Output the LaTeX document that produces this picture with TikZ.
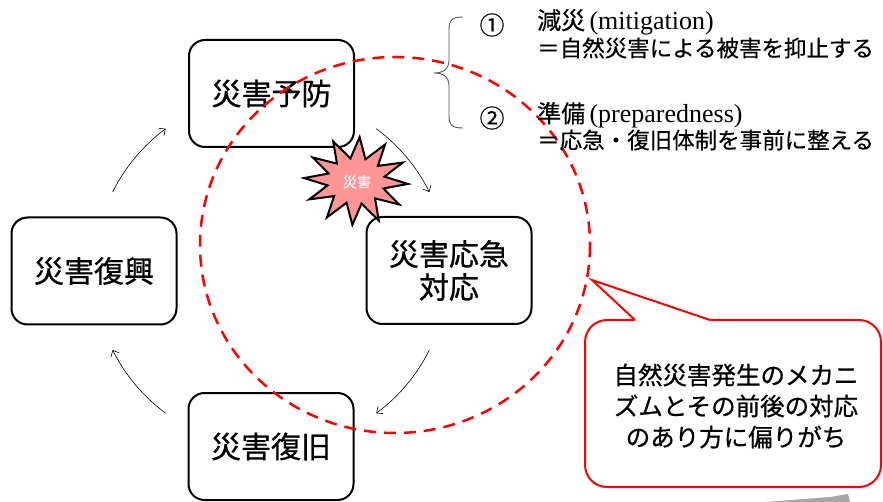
\documentclass[tikz,border=0pt]{standalone}
\usepackage{fontspec}
\newfontfamily\jp{Noto Sans CJK JP}
\newfontfamily\jpb[FakeBold=0.7]{Noto Sans CJK JP}
\newfontfamily\jpm[FakeBold=0.4]{Noto Sans CJK JP}
\newfontfamily\lserif{Liberation Serif}
\usetikzlibrary{arrows.meta,calc}
\definecolor{starpink}{RGB}{255,150,150}
\definecolor{dred}{RGB}{255,0,0}
\definecolor{bracegray}{RGB}{85,85,85}
\begin{document}
\begin{tikzpicture}[x=1pt,y=-1pt,
  box/.style={draw,line width=2pt,rounded corners=16pt,minimum width=165pt,minimum height=107pt,
    align=center,inner sep=0pt,font=\jpb\fontsize{30}{33}\selectfont},
  cyc/.style={line width=0.6pt,-{Straight Barb[length=5pt,width=9pt]}},
  toptext/.style={anchor=west,inner sep=0pt,font=\jpm\fontsize{22.5}{25}\selectfont},
  numtext/.style={inner sep=0pt,font=\jpm\fontsize{25}{26}\selectfont},
  calltext/.style={align=center,inner sep=0pt,font=\jpb\fontsize{24.5}{31}\selectfont}]
\useasboundingbox (0,0) rectangle (883,502);
\fill[white] (0,0) rectangle (883,502);

% boxes
\node[box] (yobo) at (271.5,93.5) {災害予防};
\node[box] (fukko) at (94,271) {災害復興};
\node[box] (oukyu) at (449,270.5) {災害応急\\対応};
\node[box] (fukkyu) at (271,446.5) {災害復旧};

% star
\begin{scope}[shift={(356,181)}]
\draw[line width=2pt,fill=starpink,line join=miter]
  (-146:52 and 42) -- (-131:29 and 23) -- (-116:52 and 44) -- (-101:29 and 23) --
  (-86:52 and 44) -- (-71:29 and 23) -- (-56:52 and 44) -- (-41:29 and 23) --
  (-26:52 and 42) -- (-11:29 and 23) -- (4:52 and 42) -- (19:29 and 23) --
  (34:52 and 42) -- (49:29 and 23) -- (64:52 and 44) -- (79:29 and 23) --
  (94:52 and 44) -- (109:29 and 23) -- (124:52 and 44) -- (139:29 and 23) --
  (154:52 and 42) -- (169:29 and 23) -- (184:52 and 42) -- (199:29 and 23) -- cycle;
\end{scope}
\node[inner sep=0pt,text=white,font=\jpm\fontsize{14}{16}\selectfont] (saigai) at (357,182) {災害};

% dashed circle
\draw[dred,line width=2.5pt,dash pattern=on 12pt off 8pt] (395,245) ellipse [x radius=195,y radius=188];

% cycle arrows
\coordinate (cc) at (271,271);
\coordinate (a1) at ($(cc)+(-153.5:177)$);
\coordinate (a2) at ($(cc)+(-53.5:177)$);
\coordinate (a3) at ($(cc)+(26.5:177)$);
\coordinate (a4) at ($(cc)+(126.5:177)$);
\draw[cyc] (a1) arc[start angle=-153.5,end angle=-126.5,radius=177];
\draw[cyc] (a2) arc[start angle=-53.5,end angle=-26.5,radius=177];
\draw[cyc] (a3) arc[start angle=26.5,end angle=53.5,radius=177];
\draw[cyc] (a4) arc[start angle=126.5,end angle=153.5,radius=177];

% brace
\coordinate (bt) at (463,17);
\coordinate (bb) at (463,128);
\coordinate (bm) at (434,73);
\draw[bracegray,line width=0.9pt] (bt) .. controls (452,17) and (449,20) .. (449,30)
  -- (449,60) .. controls (449,70) and (442,73) .. (bm)
  .. controls (442,73) and (449,76) .. (449,86)
  -- (449,116) .. controls (449,125) and (452,128) .. (bb);

% top-right texts
\node[numtext] (n1) at (492,25) {①};
\node[numtext] (n2) at (492,118) {②};
\node[toptext] (t1) at (537,22) {{\fontsize{24}{25}\selectfont 減災}{\lserif\fontsize{26}{27}\selectfont\,(mitigation)}};
\node[toptext] (t2) at (537,48) {＝自然災害による被害を抑止する};
\node[toptext] (t3) at (537,115) {{\fontsize{24}{25}\selectfont 準備}{\lserif\fontsize{26}{27}\selectfont\,(preparedness)}};
\node[toptext] (t4) at (537,140) {＝応急・復旧体制を事前に整える};

% callout
\draw[dred,line width=2pt,fill=white,rounded corners=22pt] (585,320) rectangle (881,487);
\coordinate (ptip) at (592,280);
\coordinate (pl) at (635,320);
\coordinate (pr) at (710,320);
\fill[white] (pl) -- (ptip) -- (pr) -- ($(pr)+(0,2)$) -- ($(pl)+(0,2)$) -- cycle;
\draw[dred,line width=2pt,line join=miter] (pl) -- (ptip) -- (pr);
\node[calltext] (ct) at (736,406) {自然災害発生のメカニ\\ズムとその前後の対応\\のあり方に偏りがち};

% smudge at bottom right
\fill[gray!70] (766,502) -- (830,497) -- (848,494) -- (850,502) -- cycle;
\end{tikzpicture}
\end{document}
